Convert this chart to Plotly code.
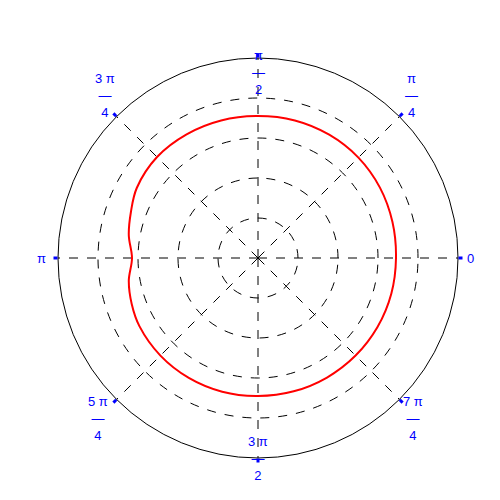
import plotly.graph_objects as go

theta_deg = [0, 15, 30, 45, 60, 75, 90, 105, 120, 135, 150, 160, 170, 180, 190, 200, 210, 225, 240, 255, 270, 285, 300, 315, 330, 345, 360]
r_vals = [3.45, 3.48, 3.52, 3.55, 3.56, 3.56, 3.55, 3.56, 3.57, 3.57, 3.5, 3.38, 3.28, 3.15, 3.28, 3.36, 3.42, 3.45, 3.46, 3.46, 3.45, 3.45, 3.45, 3.45, 3.45, 3.45, 3.45]
tick_vals = [0, 45, 90, 135, 180, 225, 270, 315]
tick_text = ["0", "π<br>—<br>4", "π<br>—<br>2", "3 π<br>—<br>4", "π", "5 π<br>—<br>4", "3 π<br>—<br>2", "7 π<br>—<br>4"]
# label centre positions in pixels
label_px = [(462, 250), (403, 87), (250, 65), (97, 87), (33, 250), (90, 410), (250, 450), (405, 410)]

fig = go.Figure(go.Scatterpolar(r=r_vals, theta=theta_deg, mode="lines",
                                line=dict(color="red", width=2, shape="spline"),
                                hoverinfo="skip"))
for txt, (px, py) in zip(tick_text, label_px):
    fig.add_annotation(x=(px - 50) / 400, y=(450 - py) / 400, xref="paper", yref="paper",
                       text=txt, showarrow=False, xanchor="center", yanchor="middle",
                       font=dict(color="blue", size=13, family="Liberation Sans"))
fig.update_layout(
    width=500, height=500, showlegend=False,
    paper_bgcolor="white", margin=dict(l=50, r=50, t=50, b=50),
    polar=dict(
        bgcolor="white",
        domain=dict(x=[0, 1], y=[0, 1]),
        radialaxis=dict(range=[0, 5], tickvals=[1, 2, 3, 4], showticklabels=False, ticks="",
                        showline=False, gridcolor="black", griddash="dash", gridwidth=1),
        angularaxis=dict(tickvals=tick_vals, showticklabels=False, direction="counterclockwise",
                         rotation=0, showline=True, linecolor="black", linewidth=1,
                         gridcolor="black", griddash="dash", gridwidth=1,
                         ticks="outside", ticklen=4, tickwidth=3, tickcolor="blue"),
    ),
)
fig.write_html("out.html")
